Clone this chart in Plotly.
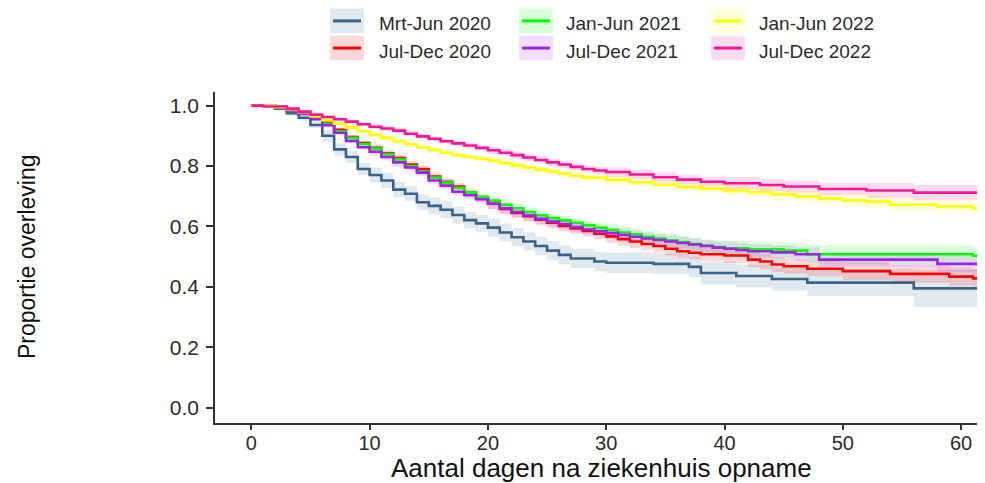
import plotly.graph_objects as go

# ---------------- data ----------------
labels = ["Mrt-Jun 2020", "Jul-Dec 2020", "Jan-Jun 2021",
          "Jul-Dec 2021", "Jan-Jun 2022", "Jul-Dec 2022"]
colors = ["#36648B", "#FF0000", "#00FF00", "#A020F0", "#FFFF00", "#FF1493"]

x_ticks = [0, 10, 20, 30, 40, 50, 60]
y_ticks = [0.0, 0.2, 0.4, 0.6, 0.8, 1.0]
y_ticktext = ["0.0", "0.2", "0.4", "0.6", "0.8", "1.0"]

x_title = "Aantal dagen na ziekenhuis opname"
y_title = "Proportie overleving"

# Mrt-Jun 2020
t_mj20 = [0, 2, 3, 4, 5, 6, 7, 8, 9, 10, 11, 12, 13, 14, 15, 16, 17, 18, 19, 20,
          21, 22, 23, 24, 25, 26, 27, 29, 30, 34, 37, 38, 41, 44, 47, 56, 64]
s_mj20 = [1.0, 0.99, 0.975, 0.96, 0.936, 0.90, 0.855, 0.83, 0.79, 0.77, 0.752,
          0.722, 0.708, 0.68, 0.668, 0.655, 0.638, 0.621, 0.61, 0.596, 0.58,
          0.564, 0.55, 0.535, 0.52, 0.506, 0.494, 0.484, 0.48, 0.476, 0.466,
          0.446, 0.436, 0.426, 0.414, 0.395, 0.395]
ci_t_mj20 = [0, 3, 6, 10, 15, 20, 25, 30, 38, 47, 56]
ci_w_mj20 = [0.0, 0.01, 0.02, 0.025, 0.028, 0.03, 0.032, 0.034, 0.038, 0.045, 0.062]

# Jul-Dec 2020
t_jd20 = [0, 2, 3, 4, 5, 6, 7, 8, 9, 10, 11, 12, 13, 14, 15, 16, 17, 18, 19, 20,
          21, 22, 23, 24, 25, 26, 27, 28, 29, 30, 31, 32, 33, 34, 35, 36, 37, 38,
          40, 42, 43, 44, 45, 47, 50, 54, 59, 61, 64]
s_jd20 = [1.0, 0.995, 0.985, 0.976, 0.96, 0.943, 0.92, 0.896, 0.876, 0.86, 0.842,
          0.826, 0.805, 0.79, 0.765, 0.748, 0.732, 0.712, 0.692, 0.675, 0.658,
          0.645, 0.634, 0.622, 0.612, 0.602, 0.593, 0.585, 0.576, 0.567, 0.558,
          0.55, 0.542, 0.535, 0.526, 0.518, 0.513, 0.508, 0.504, 0.49, 0.484,
          0.474, 0.468, 0.46, 0.452, 0.443, 0.434, 0.428, 0.428]
ci_t_jd20 = [0, 3, 5, 10, 20, 30, 40, 50]
ci_w_jd20 = [0.0, 0.004, 0.007, 0.012, 0.018, 0.022, 0.025, 0.03]

# Jan-Jun 2021
t_jj21 = [0, 2, 3, 4, 5, 6, 7, 8, 9, 10, 11, 12, 13, 14, 15, 16, 17, 18, 19, 20,
          21, 22, 23, 24, 25, 26, 27, 28, 29, 30, 31, 32, 33, 34, 35, 36, 37, 38,
          39, 40, 42, 45, 47, 61, 64]
s_jj21 = [1.0, 0.995, 0.985, 0.976, 0.958, 0.94, 0.915, 0.893, 0.873, 0.858,
          0.84, 0.822, 0.80, 0.782, 0.762, 0.745, 0.728, 0.712, 0.698, 0.685,
          0.672, 0.66, 0.648, 0.637, 0.628, 0.62, 0.612, 0.604, 0.596, 0.588,
          0.58, 0.574, 0.566, 0.56, 0.554, 0.548, 0.542, 0.537, 0.532, 0.528,
          0.524, 0.52, 0.508, 0.503, 0.503]
ci_t_jj21 = [0, 3, 5, 10, 20, 30, 40, 47]
ci_w_jj21 = [0.0, 0.004, 0.007, 0.01, 0.015, 0.02, 0.025, 0.03]

# Jul-Dec 2021
t_jd21 = [0, 2, 3, 4, 5, 6, 7, 8, 9, 10, 11, 12, 13, 14, 15, 16, 17, 18, 19, 20,
          21, 22, 23, 24, 25, 26, 27, 28, 29, 30, 31, 32, 33, 34, 35, 36, 37, 38,
          39, 40, 41, 42, 44, 46, 48, 58, 64]
s_jd21 = [1.0, 0.995, 0.985, 0.972, 0.955, 0.935, 0.91, 0.883, 0.862, 0.847,
          0.83, 0.812, 0.795, 0.778, 0.752, 0.735, 0.715, 0.703, 0.69, 0.675,
          0.66, 0.648, 0.636, 0.625, 0.616, 0.608, 0.598, 0.59, 0.584, 0.578,
          0.572, 0.566, 0.56, 0.555, 0.55, 0.545, 0.54, 0.535, 0.53, 0.526,
          0.522, 0.518, 0.514, 0.508, 0.49, 0.476, 0.476]
ci_t_jd21 = [0, 3, 5, 10, 20, 30, 40, 50]
ci_w_jd21 = [0.0, 0.004, 0.007, 0.012, 0.017, 0.02, 0.023, 0.028]

# Jan-Jun 2022
t_jj22 = [0, 2, 3, 4, 5, 6, 7, 8, 9, 10, 11, 12, 13, 14, 15, 16, 17, 18, 19, 20,
          21, 22, 23, 24, 25, 26, 27, 28, 30, 32, 34, 36, 38, 40, 42, 44, 46, 48,
          50, 52, 54, 58, 61, 64]
s_jj22 = [1.0, 0.995, 0.988, 0.978, 0.965, 0.952, 0.94, 0.928, 0.915, 0.903,
          0.893, 0.882, 0.872, 0.862, 0.853, 0.844, 0.836, 0.83, 0.824, 0.818,
          0.81, 0.802, 0.795, 0.788, 0.782, 0.775, 0.768, 0.762, 0.754, 0.746,
          0.738, 0.731, 0.725, 0.719, 0.713, 0.706, 0.699, 0.692, 0.686, 0.682,
          0.672, 0.666, 0.66, 0.66]
ci_t_jj22 = [0, 3, 5, 10, 20, 30, 40, 50]
ci_w_jj22 = [0.0, 0.003, 0.005, 0.008, 0.012, 0.015, 0.018, 0.02]

# Jul-Dec 2022
t_jd22 = [0, 1, 3, 4, 5, 6, 7, 8, 9, 10, 11, 12, 13, 14, 15, 16, 17, 18, 19, 20,
          21, 22, 23, 24, 25, 26, 27, 28, 29, 30, 32, 34, 36, 38, 40, 43, 45, 48,
          52, 56, 64]
s_jd22 = [1.0, 0.997, 0.99, 0.98, 0.97, 0.962, 0.955, 0.947, 0.938, 0.93, 0.924,
          0.917, 0.907, 0.898, 0.89, 0.882, 0.875, 0.868, 0.86, 0.852, 0.844,
          0.836, 0.828, 0.82, 0.812, 0.805, 0.797, 0.79, 0.785, 0.78, 0.772,
          0.763, 0.755, 0.748, 0.743, 0.737, 0.732, 0.724, 0.719, 0.712, 0.712]
ci_t_jd22 = [0, 3, 5, 10, 20, 30, 40, 50]
ci_w_jd22 = [0.0, 0.003, 0.005, 0.008, 0.012, 0.016, 0.02, 0.025]

series = [
    (t_mj20, s_mj20, ci_t_mj20, ci_w_mj20),
    (t_jd20, s_jd20, ci_t_jd20, ci_w_jd20),
    (t_jj21, s_jj21, ci_t_jj21, ci_w_jj21),
    (t_jd21, s_jd21, ci_t_jd21, ci_w_jd21),
    (t_jj22, s_jj22, ci_t_jj22, ci_w_jj22),
    (t_jd22, s_jd22, ci_t_jd22, ci_w_jd22),
]

# ---------------- styling ----------------
FONT = "Liberation Sans, Arial, sans-serif"
TXT = "#2b2b2b"
AX = "#333333"
OFF = 8                      # page body margin of the html page
W, H = 985 - OFF, 483 - OFF
L, R, T, B = 215 - OFF, 0, 92 - OFF, 60
PW, PH = W - L - R, H - T - B


def rgba(hexc, a):
    h = hexc.lstrip("#")
    r, g, b = int(h[0:2], 16), int(h[2:4], 16), int(h[4:6], 16)
    return f"rgba({r},{g},{b},{a})"


def step_lookup(bt, bw, t):
    w = bw[0]
    for tt, ww in zip(bt, bw):
        if tt <= t:
            w = ww
    return w


fig = go.Figure()

# confidence bands first
for (t, s, ct, cw), col in zip(series, colors):
    hw = [step_lookup(ct, cw, ti) for ti in t]
    lo = [si - h for si, h in zip(s, hw)]
    hi = [min(1.0, si + h) for si, h in zip(s, hw)]
    fig.add_trace(go.Scatter(x=t, y=lo, mode="lines", line=dict(width=0, shape="hv"),
                             hoverinfo="skip", showlegend=False))
    fig.add_trace(go.Scatter(x=t, y=hi, mode="lines", line=dict(width=0, shape="hv"),
                             fill="tonexty", fillcolor=rgba(col, 0.15),
                             hoverinfo="skip", showlegend=False))

# survival curves
for (t, s, ct, cw), col, lab in zip(series, colors, labels):
    fig.add_trace(go.Scatter(x=t, y=s, mode="lines", name=lab,
                             line=dict(color=col, width=2.6, shape="hv"),
                             showlegend=False))


# page-pixel -> paper coordinates
def px(x):
    return (x - OFF - L) / PW


def py(y):
    return (H - B - (y - OFF)) / PH


# manual legend (2 rows x 3 columns, column-major order)
col_box_x = [330, 519, 711]
col_txt_x = [377, 564, 757]
row_box = [(8.5, 33.3), (35.8, 60.3)]
row_txt_y = [24, 51]
shapes = []
annotations = []
for i, (lab, col) in enumerate(zip(labels, colors)):
    c, r = i // 2, i % 2
    x0, x1 = col_box_x[c], col_box_x[c] + 34
    y0, y1 = row_box[r]
    shapes.append(dict(type="rect", xref="paper", yref="paper",
                       x0=px(x0), x1=px(x1), y0=py(y1), y1=py(y0),
                       fillcolor=rgba(col, 0.15), line=dict(width=0), layer="above"))
    ym = (y0 + y1) / 2
    shapes.append(dict(type="line", xref="paper", yref="paper",
                       x0=px(x0 + 3), x1=px(x1 - 3), y0=py(ym), y1=py(ym),
                       line=dict(color=col, width=3), layer="above"))
    annotations.append(dict(text=lab, xref="paper", yref="paper",
                            x=px(col_txt_x[c]), y=py(row_txt_y[r]),
                            xanchor="left", yanchor="middle", showarrow=False,
                            font=dict(family=FONT, size=19, color=TXT)))

annotations.append(dict(text=x_title, xref="paper", yref="paper",
                        x=px(601), y=py(468), xanchor="center", yanchor="middle",
                        showarrow=False, font=dict(family=FONT, size=26, color="#111")))
annotations.append(dict(text=y_title, xref="paper", yref="paper",
                        x=px(27), y=py(257), xanchor="center", yanchor="middle",
                        textangle=-90, showarrow=False,
                        font=dict(family=FONT, size=23, color="#111")))

fig.update_layout(
    width=W, height=H,
    margin=dict(l=L, r=R, t=T, b=B, autoexpand=False),
    paper_bgcolor="white", plot_bgcolor="white",
    showlegend=False,
    shapes=shapes, annotations=annotations,
    font=dict(family=FONT, color=TXT),
    xaxis=dict(range=[-3.07, 62.02], tickvals=x_ticks, showgrid=False, zeroline=False,
               showline=True, linecolor=AX, linewidth=1.6, ticks="outside",
               ticklen=5, tickwidth=1.5, tickcolor=AX, ticklabelstandoff=-4,
               tickfont=dict(family=FONT, size=20, color=TXT)),
    yaxis=dict(range=[-0.0507, 1.045], tickvals=y_ticks, ticktext=y_ticktext,
               showgrid=False, zeroline=False,
               showline=True, linecolor=AX, linewidth=1.6, ticks="outside",
               ticklen=7, tickwidth=1.5, tickcolor=AX, ticklabelstandoff=3,
               tickfont=dict(family=FONT, size=21, color=TXT)),
)

fig.write_html("out.html")
